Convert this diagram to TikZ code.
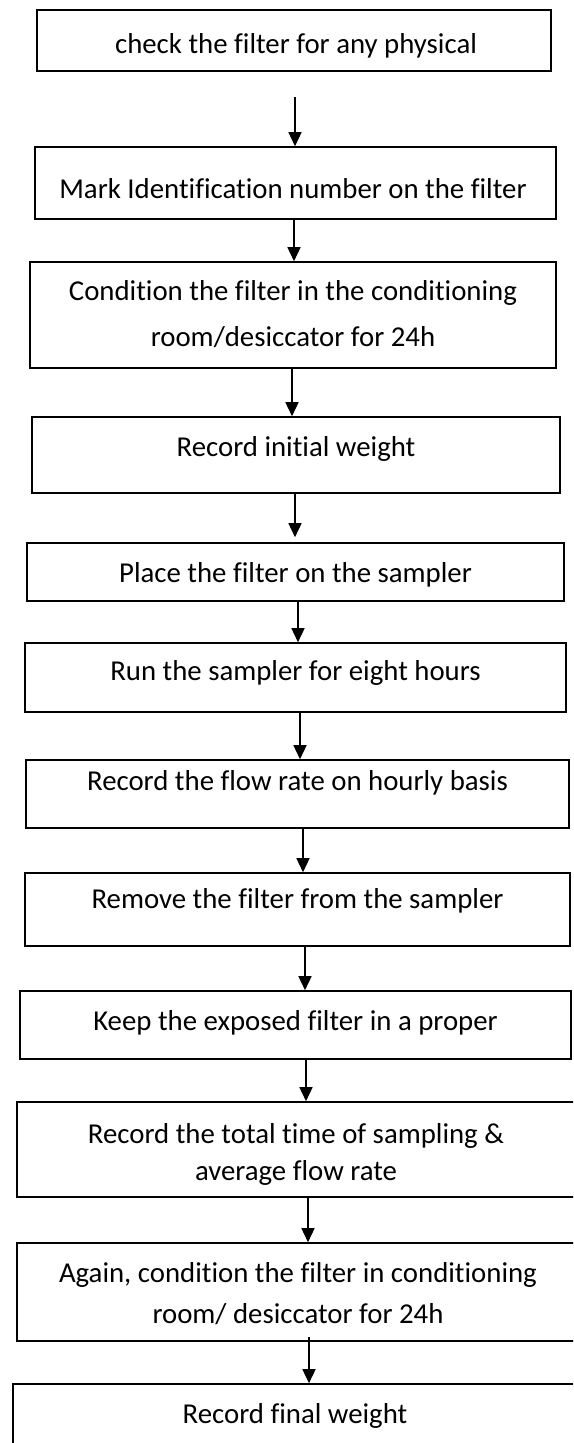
\documentclass[tikz,border=0pt]{standalone}
\usepackage{fontspec}
\setmainfont{Carlito}[Ligatures={NoCommon}]
\usetikzlibrary{arrows.meta}
\begin{document}
\begin{tikzpicture}[x=1pt,y=-1pt,
  box/.style={draw, line width=1.6pt, inner sep=0pt, rectangle},
  lbl/.style={anchor=base, inner sep=0pt, font=\fontsize{28.8}{34}\selectfont},
  arr/.style={line width=1.5pt, -{Triangle[width=13pt,length=14pt]}}]
\clip (0,0) rectangle (573,1443);
% boxes
\node[box, minimum width=514pt, minimum height=61pt] (b1) at (294,40.5) {};
\node[box, minimum width=521pt, minimum height=72pt] (b2) at (295.5,183) {};
\node[box, minimum width=526pt, minimum height=106pt] (b3) at (293,315) {};
\node[box, minimum width=528pt, minimum height=76pt] (b4) at (296,455) {};
\node[box, minimum width=537pt, minimum height=58pt] (b5) at (295.5,572) {};
\node[box, minimum width=541pt, minimum height=69pt] (b6) at (295.5,677.5) {};
\node[box, minimum width=543pt, minimum height=68pt] (b7) at (297.5,794) {};
\node[box, minimum width=545pt, minimum height=73pt] (b8) at (297.5,909.5) {};
\node[box, minimum width=551pt, minimum height=68pt] (b9) at (295.5,1025) {};
\node[box, minimum width=563pt, minimum height=95pt] (b10) at (298.5,1149.5) {};
\node[box, minimum width=563pt, minimum height=98pt] (b11) at (298.5,1292) {};
\node[box, minimum width=567pt, minimum height=76pt] (b12) at (296.5,1422) {};
% texts
\node[lbl] (t1) at (296,53) {check the filter for any physical};
\node[lbl] (t2) at (293,198) {Mark Identification number on the filter};
\node[lbl] (t3a) at (293,300) {Condition the filter in the conditioning};
\node[lbl] (t3b) at (293,346) {room/desiccator for 24h};
\node[lbl] (t4) at (296,456) {Record initial weight};
\node[lbl] (t5) at (295.5,582) {Place the filter on the sampler};
\node[lbl] (t6) at (295.5,680) {Run the sampler for eight hours};
\node[lbl] (t7) at (297.5,790) {Record the flow rate on hourly basis};
\node[lbl] (t8) at (297.5,908) {Remove the filter from the sampler};
\node[lbl] (t9) at (295.5,1030) {Keep the exposed filter in a proper};
\node[lbl] (t10a) at (296,1143) {Record the total time of sampling \&};
\node[lbl] (t10b) at (296,1180) {average flow rate};
\node[lbl] (t11a) at (298,1282) {Again, condition the filter in conditioning};
\node[lbl] (t11b) at (298,1323) {room/ desiccator for 24h};
\node[lbl] (t12) at (295,1423) {Record final weight};
% arrow start points
\coordinate (a1) at (295,97);
\coordinate (a2) at (294,219);
\coordinate (a3) at (292,368);
\coordinate (a4) at (295,493);
\coordinate (a5) at (298,601);
\coordinate (a6) at (300,712);
\coordinate (a7) at (303,828);
\coordinate (a8) at (305,946);
\coordinate (a9) at (306,1059);
\coordinate (a10) at (308,1197);
\coordinate (a11) at (309,1337);
% arrows
\draw[arr] (a1) -- (a1 |- b2.north);
\draw[arr] (a2) -- (a2 |- b3.north);
\draw[arr] (a3) -- (a3 |- b4.north);
\draw[arr, shorten >=5pt] (a4) -- (a4 |- b5.north);
\draw[arr] (a5) -- (a5 |- b6.north);
\draw[arr] (a6) -- (a6 |- b7.north);
\draw[arr] (a7) -- (a7 |- b8.north);
\draw[arr] (a8) -- (a8 |- b9.north);
\draw[arr] (a9) -- (a9 |- b10.north);
\draw[arr] (a10) -- (a10 |- b11.north);
\draw[arr] (a11) -- (a11 |- b12.north);
\end{tikzpicture}
\end{document}
